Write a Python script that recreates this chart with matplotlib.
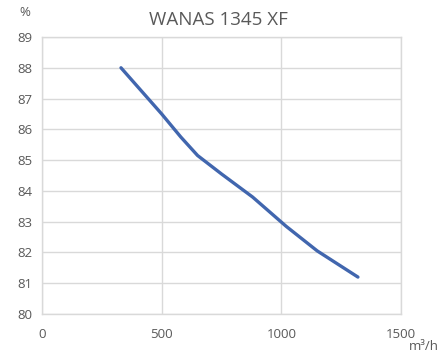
import matplotlib
matplotlib.use("Agg")
import matplotlib.pyplot as plt

title = "WANAS 1345 XF"
flow = [330, 500, 580, 650, 750, 880, 1020, 1150, 1320]
eff = [88.0, 86.5, 85.75, 85.15, 84.55, 83.8, 82.85, 82.05, 81.2]
xticks = [0, 500, 1000, 1500]
yticks = [80, 81, 82, 83, 84, 85, 86, 87, 88, 89]

plt.rcParams['font.family'] = ['Open Sans', 'DejaVu Sans']
txt = '#595959'
grid = '#d9d9d9'

fig = plt.figure(figsize=(4.42, 3.54), dpi=100)
ax = fig.add_axes([42/442, 1-314/354, (401-42)/442, (314-37)/354])
ax.plot(flow, eff, color='#4166AE', lw=2.4, solid_capstyle='round')
ax.set_xlim(0, 1500)
ax.set_ylim(80, 89)
ax.set_xticks(xticks)
ax.set_yticks(yticks)
ax.grid(True, color=grid, lw=1.0)
ax.set_axisbelow(True)
for s in ax.spines.values():
    s.set_color(grid)
    s.set_linewidth(1.0)
ax.tick_params(length=0, labelsize=9.5, colors=txt, pad=7)
ax.tick_params(axis='x', pad=10)
fig.text(218/442, 1-20/354, title, ha='center', va='center', fontsize=13.5, color=txt)
fig.text(25/442, 1-12/354, '%', ha='center', va='center', fontsize=9.5, color=txt)
fig.text(424/442, 1-347/354, 'm³/h', ha='center', va='center', fontsize=9.5, color=txt)
fig.savefig('out.png', dpi=100)
